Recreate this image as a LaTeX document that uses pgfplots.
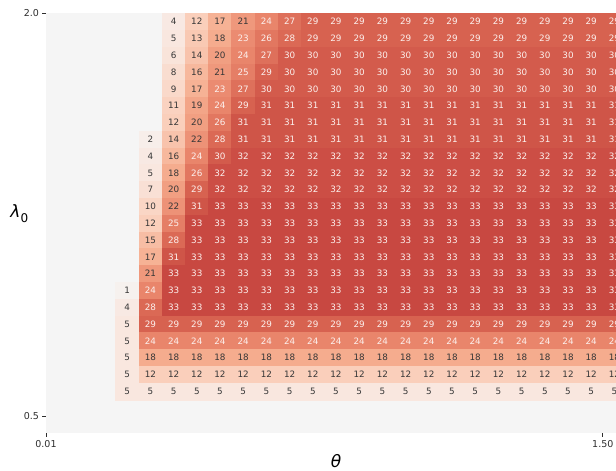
\documentclass[border=0pt]{standalone}
\usepackage{fontspec}
\setmainfont{DejaVu Sans}
\usepackage{pgfplots}
\usepackage{pgfplotstable}
\pgfplotsset{compat=1.18}

\definecolor{bgcol}{RGB}{245,245,245}
\definecolor{darktxt}{RGB}{55,55,55}
\definecolor{lighttxt}{RGB}{252,240,237}
\definecolor{tickcol}{RGB}{45,45,45}

% rows r = 0 (lambda_0 = 2.0, top) ... 22 ; columns c3 ... c24 (theta index)
\pgfplotstableread{
r  c3  c4  c5  c6  c7  c8  c9  c10 c11 c12 c13 c14 c15 c16 c17 c18 c19 c20 c21 c22 c23 c24
0  nan nan 4   12  17  21  24  27  29  29  29  29  29  29  29  29  29  29  29  29  29  29
1  nan nan 5   13  18  23  26  28  29  29  29  29  29  29  29  29  29  29  29  29  29  29
2  nan nan 6   14  20  24  27  30  30  30  30  30  30  30  30  30  30  30  30  30  30  30
3  nan nan 8   16  21  25  29  30  30  30  30  30  30  30  30  30  30  30  30  30  30  30
4  nan nan 9   17  23  27  30  30  30  30  30  30  30  30  30  30  30  30  30  30  30  30
5  nan nan 11  19  24  29  31  31  31  31  31  31  31  31  31  31  31  31  31  31  31  31
6  nan nan 12  20  26  31  31  31  31  31  31  31  31  31  31  31  31  31  31  31  31  31
7  nan 2   14  22  28  31  31  31  31  31  31  31  31  31  31  31  31  31  31  31  31  31
8  nan 4   16  24  30  32  32  32  32  32  32  32  32  32  32  32  32  32  32  32  32  32
9  nan 5   18  26  32  32  32  32  32  32  32  32  32  32  32  32  32  32  32  32  32  32
10 nan 7   20  29  32  32  32  32  32  32  32  32  32  32  32  32  32  32  32  32  32  32
11 nan 10  22  31  33  33  33  33  33  33  33  33  33  33  33  33  33  33  33  33  33  33
12 nan 12  25  33  33  33  33  33  33  33  33  33  33  33  33  33  33  33  33  33  33  33
13 nan 15  28  33  33  33  33  33  33  33  33  33  33  33  33  33  33  33  33  33  33  33
14 nan 17  31  33  33  33  33  33  33  33  33  33  33  33  33  33  33  33  33  33  33  33
15 nan 21  33  33  33  33  33  33  33  33  33  33  33  33  33  33  33  33  33  33  33  33
16 1   24  33  33  33  33  33  33  33  33  33  33  33  33  33  33  33  33  33  33  33  33
17 4   28  33  33  33  33  33  33  33  33  33  33  33  33  33  33  33  33  33  33  33  33
18 5   29  29  29  29  29  29  29  29  29  29  29  29  29  29  29  29  29  29  29  29  29
19 5   24  24  24  24  24  24  24  24  24  24  24  24  24  24  24  24  24  24  24  24  24
20 5   18  18  18  18  18  18  18  18  18  18  18  18  18  18  18  18  18  18  18  18  18
21 5   12  12  12  12  12  12  12  12  12  12  12  12  12  12  12  12  12  12  12  12  12
22 5   5   5   5   5   5   5   5   5   5   5   5   5   5   5   5   5   5   5   5   5   5
}\datatbl

\begin{document}
\begin{tikzpicture}
\begin{axis}[
  name=ax,
  width=580pt, height=420pt, scale only axis,
  xmin=0, xmax=25, ymin=0, ymax=25,
  axis background/.style={fill=bgcol},
  axis line style={draw=none},
  xtick={0,24}, xticklabels={0.01,1.50},
  ytick={1,25}, yticklabels={0.5,2.0},
  xtick pos=left, ytick pos=left,
  tick align=outside, major tick length=3.5pt,
  tick style={color=tickcol, line width=0.8pt},
  tick label style={font=\fontsize{9.5}{11}\selectfont, text=tickcol},
  /pgf/number format/assume math mode=true,
  xlabel={\textit{θ}},
  xlabel style={font=\fontsize{17}{20}\selectfont, text=black},
  every axis y label/.style={at={(axis description cs:-0.046,0.523)}, anchor=center,
     font=\fontsize{17}{20}\selectfont, text=black},
  ylabel={\textit{λ}\raisebox{-0.28em}{\fontsize{12}{12}\selectfont 0}},
  colormap={warmreds}{rgb255(1cm)=(246,241,238) rgb255(5cm)=(249,231,223)
     rgb255(12cm)=(250,207,187) rgb255(18cm)=(245,172,142) rgb255(24cm)=(233,133,107)
     rgb255(29cm)=(215,98,80) rgb255(33cm)=(200,72,65)},
  point meta min=1, point meta max=33,
  clip=false,
]
% coloured cells
\pgfplotsinvokeforeach{3,...,24}{
  \addplot[scatter, only marks, mark=square*, mark size=8.45pt,
    mark options={xscale=1.376, line width=0.15pt},
    scatter src=explicit,
    scatter/use mapped color={draw=mapped color, fill=mapped color},
  ] table[x expr=#1+0.5, y expr=\thisrow{c#1}*0+24.5-\thisrow{r}, meta=c#1] {\datatbl};
}
% cell annotations
\pgfplotsinvokeforeach{3,...,24}{
  \addplot[draw=none, mark=none,
    visualization depends on={\thisrow{c#1} \as \val},
    nodes near coords={\ifdim\val pt<22.5pt\textcolor{darktxt}{\pgfmathprintnumber[fixed,precision=0]{\val}}\else\textcolor{lighttxt}{\pgfmathprintnumber[fixed,precision=0]{\val}}\fi},
    nodes near coords align=center,
    every node near coord/.append style={font=\fontsize{8.8}{10}\selectfont, anchor=center, inner sep=0pt},
  ] table[x expr=#1+0.5, y expr=\thisrow{c#1}*0+24.5-\thisrow{r}, meta=c#1] {\datatbl};
}
\end{axis}
\pgfresetboundingbox
\path[use as bounding box] (ax.south west) ++(-46pt,-37.7pt) rectangle ++(616pt,471pt);
\end{tikzpicture}
\end{document}
